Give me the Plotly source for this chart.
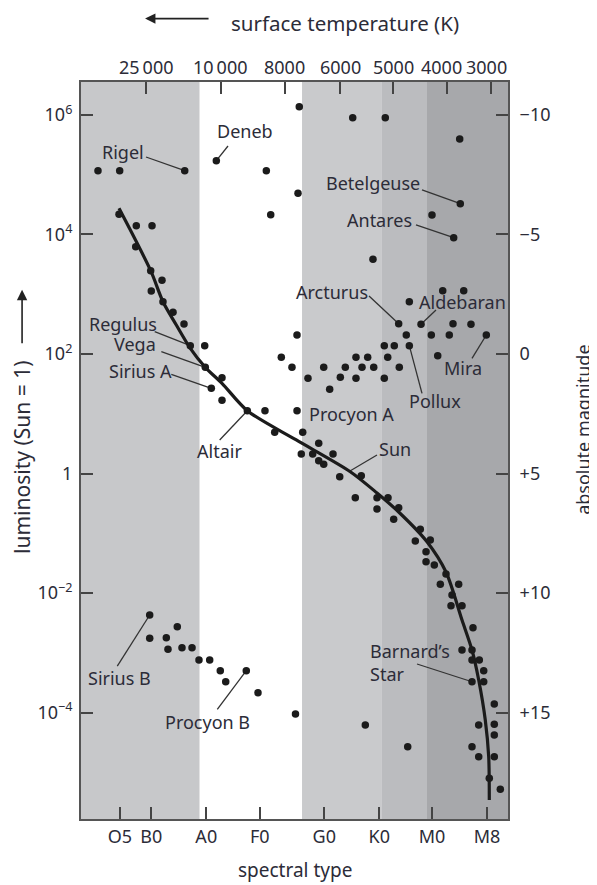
import plotly.graph_objects as go

# ---------------- data (x = position along the spectral-type axis, 0..100; log10 luminosity, Sun = 1) -----------
spectral_ticks = ["O5", "B0", "A0", "F0", "G0", "K0", "M0", "M8"]
spectral_tick_pos = [9.11, 16.46, 29.34, 41.85, 56.98, 69.86, 82.2, 95.08]

temp_ticks = ["25\u2009000", "10\u2009000", "8000", "6000", "5000", "4000", "3000"]
temp_tick_pos = [15.15, 32.79, 47.85, 60.66, 73.0, 85.78, 96.02]
temp_label_pos = [15.22, 32.55, 47.54, 60.66, 73.07, 84.47, 94.85]

lum_tick_vals = [1e-4, 1e-2, 1, 1e2, 1e4, 1e6]
lum_tick_text = ["10<sup>\u22124</sup>", "10<sup>\u22122</sup>", "1", "10<sup>2</sup>", "10<sup>4</sup>", "10<sup>6</sup>"]
mag_tick_vals = [-10, -5, 0, 5, 10, 15]
mag_tick_text = ["\u221210", "\u22125", "0", "+5", "+10", "+15"]

# spectral-band boundaries along x
band_edges = [0, 27.8, 51.76, 70.33, 81.03, 100]
band_colors = ["#c7c8ca", "#ffffff", "#c9cacc", "#bbbcbf", "#a7a8ab"]

# giants and supergiants (unnamed)
giant_x = [3.98, 9.06, 43.4, 44.43, 51.12, 63.63, 71.26, 88.69, 82.2, 50.82, 68.38, 84.71, 89.63, 76.89,
           87.12, 91.33, 50.59, 76.18, 82.04, 86.25, 71.03, 73.37, 83.54, 64.4, 67.14, 71.83, 46.91,
           49.41, 56.84, 61.9, 65.81, 68.55, 74.54, 53.16, 60.73, 64.4, 71.03, 58.24]
giant_logL = [5.068, 5.068, 5.068, 4.331, 6.139, 5.955, 5.955, 5.598, 4.326, 4.689, 3.585, 3.059, 3.059, 2.875,
              2.507, 2.497, 2.318, 2.318, 2.318, 2.318, 2.139, 2.139, 1.972, 1.945, 1.945, 1.945, 1.945,
              1.777, 1.777, 1.777, 1.777, 1.777, 1.777, 1.593, 1.610, 1.593, 1.593, 1.409]

# main-sequence stars (unnamed)
ms_x = [8.9, 12.95, 16.63, 12.81, 16.32, 18.97, 16.46, 19.2, 21.55, 24.12, 28.97, 33.02, 33.02, 43.09,
        45.36, 51.92, 55.67, 51.59, 54.26, 59.02, 55.67, 56.84, 60.59, 65.64, 64.24, 69.32, 71.9, 69.32,
        74.4, 73.23, 79.46, 78.29, 81.8, 80.8, 80.8, 82.74, 85.48, 84.15, 88.45, 86.89, 86.65, 89.23,
        91.8, 89.23, 91.57, 91.57, 93.28, 94.31, 94.31, 96.79, 93.14, 96.79, 96.79, 91.57, 93.14, 96.79,
        95.62, 98.2]
ms_logL = [4.338, 4.147, 4.147, 3.796, 3.394, 3.233, 3.054, 2.875, 2.698, 2.502, 2.139, 1.603, 1.225, 1.051,
           0.690, 0.690, 0.505, 0.326, 0.326, 0.326, 0.214, 0.154, -0.054, -0.037, -0.405, -0.405, -0.405, -0.594,
           -0.572, -0.767, -0.934, -1.130, -1.113, -1.309, -1.476, -1.531, -1.682, -1.854, -1.854, -2.033, -2.212, -2.212,
           -2.581, -2.954, -2.954, -3.121, -3.121, -3.300, -3.485, -3.858, -4.209, -4.197, -4.377, -4.572, -4.740, -4.740,
           -5.101, -5.285]

# white dwarfs and other faint stars (unnamed)
wd_x = [16.09, 19.98, 22.55, 20.37, 23.65, 26.0, 27.63, 30.14, 32.62, 33.89, 41.45, 50.23, 66.58, 76.51]
wd_logL = [-2.758, -2.748, -2.564, -2.942, -2.915, -2.915, -3.121, -3.121, -3.300, -3.485, -3.669, -4.025, -4.209, -4.572]

# named stars
named = ["Rigel", "Deneb", "Betelgeuse", "Antares", "Arcturus", "Aldebaran", "Regulus", "Vega", "Sirius A",
         "Altair", "Procyon A", "Pollux", "Mira", "Barnard\u2019s<br>Star", "Sirius B", "Procyon B"]
named_x = [24.29, 31.69, 88.83, 87.28, 74.4, 79.63, 25.6, 29.11, 30.52, 38.95, 50.59, 76.89, 94.92, 91.57, 16.09, 38.71]
named_logL = [5.068, 5.235, 4.515, 3.946, 2.507, 2.497, 2.139, 1.777, 1.426, 1.051, 1.051, 2.139, 2.318, -3.485, -2.368, -3.300]

# main-sequence curve
curve_x = [8.9, 16.32, 19.2, 22.32, 25.6, 29.11, 33.02, 38.95, 50.42, 63.07, 69.32, 74.4, 81.03, 85.48, 89.23,
           91.57, 93.14, 94.68, 95.48, 95.62]
curve_logL = [4.438, 3.394, 2.875, 2.485, 2.095, 1.777, 1.509, 1.051, 0.561, 0.030, -0.326, -0.644, -1.142, -1.649,
              -2.452, -2.954, -3.456, -4.126, -4.740, -5.464]

# ---------------- label layout (text position, text anchor, leader start) ----------------
label_layout = {
    "Rigel":      dict(tx=9.84, ty=5.381, anchor="center", lx=15.22, ly=5.297),
    "Deneb":      dict(tx=38.41, ty=5.732, anchor="center", lx=34.43, ly=5.481),
    "Betelgeuse": dict(tx=68.38, ty=4.862, anchor="center", lx=79.86, ly=4.745),
    "Antares":    dict(tx=70.02, ty=4.243, anchor="center", lx=78.45, ly=4.159),
    "Arcturus":   dict(tx=58.78, ty=3.038, anchor="center", lx=67.45, ly=2.971),
    "Aldebaran":  dict(tx=89.23, ty=2.870, anchor="center", lx=83.14, ly=2.736),
    "Regulus":    dict(tx=9.84, ty=2.50, anchor="center", lx=17.26, ly=2.373),
    "Vega":       dict(tx=12.65, ty=2.167, anchor="center", lx=18.81, ly=2.038),
    "Sirius A":   dict(tx=13.82, ty=1.715, anchor="center", lx=21.15, ly=1.660),
    "Altair":     dict(tx=32.55, ty=0.377, anchor="center", lx=32.48, ly=0.561),
    "Procyon A":  dict(tx=52.93, ty=0.996, anchor="left", lx=None, ly=None),
    "Pollux":     dict(tx=82.9, ty=1.213, anchor="center", lx=79.86, ly=1.342),
    "Mira":       dict(tx=89.46, ty=1.766, anchor="center", lx=91.57, ly=1.928),
    "Barnard\u2019s<br>Star": dict(tx=67.21, ty=-3.155, anchor="left", lx=78.69, ly=-3.188),
    "Sirius B":   dict(tx=8.9, ty=-3.423, anchor="center", lx=8.5, ly=-3.222),
    "Procyon B":  dict(tx=29.74, ty=-4.159, anchor="center", lx=31.92, ly=-3.947),
}
sun_label = dict(text="Sun", tx=73.54, ty=0.410, lx=69.32, ly=0.310, px=62.69, py=0.030)

# ---------------- figure ----------------
INK = "#1b1b1b"
TXT = "#2c2c38"
FONT = "Noto Sans"
LOG_RANGE = [-5.782, 6.552]
MAG_RANGE = [5 - 2.5 * LOG_RANGE[0], 5 - 2.5 * LOG_RANGE[1]]

fig = go.Figure()

def lum(vals):
    return [10 ** v for v in vals]

# leader lines
lx, ly = [], []
for name, sx, sy in zip(named, named_x, named_logL):
    d = label_layout[name]
    if d["lx"] is None:
        continue
    lx += [d["lx"], sx, None]
    ly += [10 ** d["ly"], 10 ** sy, None]
lx += [sun_label["lx"], sun_label["px"], None]
ly += [10 ** sun_label["ly"], 10 ** sun_label["py"], None]
fig.add_trace(go.Scatter(x=lx, y=ly, mode="lines", line=dict(color="#333333", width=1.3),
                         hoverinfo="skip", showlegend=False))

# main sequence curve
fig.add_trace(go.Scatter(x=curve_x, y=lum(curve_logL), mode="lines",
                         line=dict(color=INK, width=3.2, shape="spline", smoothing=0.8),
                         hoverinfo="skip", showlegend=False))

marker = dict(color=INK, size=7.5)
for xs, ys in [(giant_x, giant_logL), (ms_x, ms_logL), (wd_x, wd_logL), (named_x, named_logL)]:
    fig.add_trace(go.Scatter(x=xs, y=lum(ys), mode="markers", marker=marker, showlegend=False))

# invisible trace on secondary axes so they are drawn
fig.add_trace(go.Scatter(x=[50], y=[0], xaxis="x2", yaxis="y2", mode="markers",
                         marker=dict(opacity=0), hoverinfo="skip", showlegend=False))

# background bands
shapes = []
for i, c in enumerate(band_colors):
    shapes.append(dict(type="rect", xref="x", yref="paper", x0=band_edges[i], x1=band_edges[i + 1],
                       y0=0, y1=1, fillcolor=c, line=dict(width=0), layer="below"))

annotations = []
for name in named:
    d = label_layout[name]
    annotations.append(dict(x=d["tx"], y=d["ty"], xref="x", yref="y", text=name, showarrow=False,
                            xanchor=d["anchor"], yanchor="middle", align="left",
                            font=dict(family=FONT, size=18, color=TXT)))
annotations.append(dict(x=sun_label["tx"], y=sun_label["ty"], xref="x", yref="y", text=sun_label["text"],
                        showarrow=False, xanchor="center", yanchor="middle",
                        font=dict(family=FONT, size=18, color=TXT)))

# top temperature labels
for t, p in zip(temp_ticks, temp_label_pos):
    annotations.append(dict(x=p, y=1.0204, xref="x", yref="paper", text=t, showarrow=False,
                            xanchor="center", yanchor="middle", font=dict(family=FONT, size=18, color=TXT)))

# axis titles and arrows
annotations += [
    dict(x=0.5, y=-0.069, xref="paper", yref="paper", text="spectral type", showarrow=False,
         xanchor="center", yanchor="middle", font=dict(family=FONT, size=19, color=TXT)),
    dict(x=0.618, y=1.0801, xref="paper", yref="paper", text="surface temperature (K)", showarrow=False,
         xanchor="center", yanchor="middle", font=dict(family=FONT, size=20.5, color=TXT)),
    dict(x=0.15, y=1.086, xref="paper", yref="paper", text="", showarrow=True, ax=65, ay=0,
         arrowhead=2, arrowsize=1.3, arrowwidth=1.6, arrowcolor="#222"),
    dict(x=-0.138, y=0.49, xref="paper", yref="paper", text="luminosity (Sun = 1)", showarrow=False,
         xanchor="center", yanchor="middle", textangle=-90, font=dict(family=FONT, size=21, color=TXT)),
    dict(x=-0.138, y=0.718, xref="paper", yref="paper", text="", showarrow=True, ax=0, ay=55,
         arrowhead=2, arrowsize=1.3, arrowwidth=1.6, arrowcolor="#222"),
    dict(x=1.1756, y=0.528, xref="paper", yref="paper", text="absolute magnitude", showarrow=False,
         xanchor="center", yanchor="middle", textangle=-90, font=dict(family=FONT, size=18, color=TXT)),
]

axis_common = dict(showgrid=False, zeroline=False, showline=True, linecolor="#555555", linewidth=2,
                   ticks="inside", ticklen=12, tickwidth=2, tickcolor="#444444",
                   tickfont=dict(family=FONT, size=18, color=TXT))

fig.update_layout(
    width=589, height=877,
    margin=dict(l=73, r=89, t=74, b=66),
    plot_bgcolor="white", paper_bgcolor="white",
    showlegend=False,
    shapes=shapes, annotations=annotations,
    xaxis=dict(range=[0, 100], tickmode="array", tickvals=spectral_tick_pos, ticktext=spectral_ticks,
               **axis_common),
    xaxis2=dict(range=[0, 100], overlaying="x", side="top", tickmode="array", tickvals=temp_tick_pos,
                ticktext=[""] * len(temp_tick_pos), **axis_common),
    yaxis=dict(type="log", range=LOG_RANGE, tickmode="array", tickvals=lum_tick_vals, ticktext=lum_tick_text,
               ticklabelstandoff=3, **axis_common),
    yaxis2=dict(range=MAG_RANGE, overlaying="y", side="right", tickmode="array", tickvals=mag_tick_vals,
                ticktext=mag_tick_text, ticklabelstandoff=6, **axis_common),
)

fig.write_html("out.html")
